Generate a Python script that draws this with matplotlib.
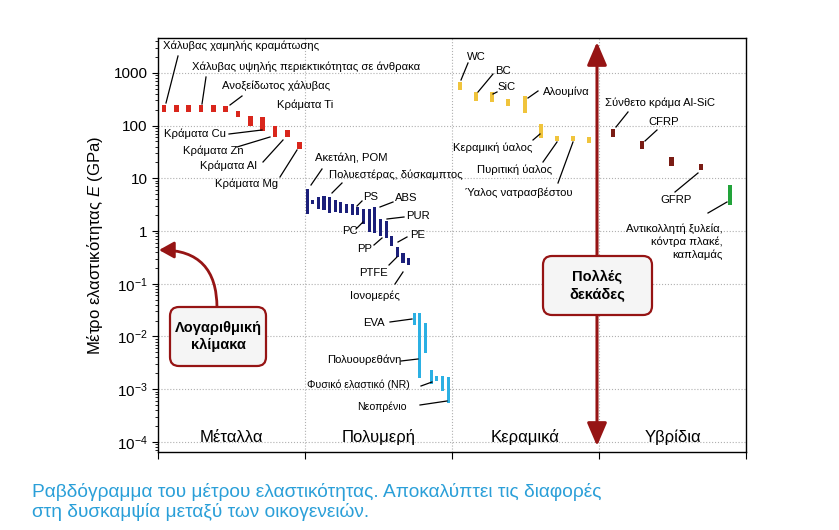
import numpy as np
import matplotlib
matplotlib.use("Agg")
import matplotlib.pyplot as plt
from matplotlib.patches import FancyBboxPatch, FancyArrowPatch
from matplotlib.transforms import IdentityTransform

plt.rcParams['font.family'] = ['Liberation Sans', 'DejaVu Sans']
plt.rcParams['mathtext.fontset'] = 'custom'
plt.rcParams['mathtext.rm'] = 'Liberation Sans'
plt.rcParams['mathtext.it'] = 'Liberation Sans:italic'

# %% data (GPa, low / high end of each bar)
families = ['Μέταλλα', 'Πολυμερή', 'Κεραμικά', 'Υβρίδια']

metal_lo = [180, 180, 180, 180, 180, 178, 145, 100, 80, 60, 60, 36]
metal_hi = [245, 245, 245, 245, 245, 240, 190, 155, 143, 98, 82, 48]

poly_lo = [2.06, 3.3, 2.65, 2.45, 2.2, 2.3, 2.2, 2.2, 1.97, 2.0,
           1.33, 0.95, 0.91, 0.82, 0.74, 0.53, 0.32, 0.25, 0.23]
poly_hi = [6.4, 3.9, 4.4, 4.7, 4.4, 3.8, 3.5, 3.3, 3.3, 2.8,
           2.65, 2.65, 2.84, 1.7, 1.58, 0.82, 0.49, 0.39, 0.31]

elast_lo = [0.0166, 0.00164, 0.0049, 0.00123, 0.0014, 0.00091, 0.00055]
elast_hi = [0.0272, 0.0272, 0.0183, 0.0023, 0.00178, 0.00178, 0.0017]

ceram_lo = [474, 297, 284, 235, 171, 57, 51, 51, 46]
ceram_hi = [682, 440, 440, 320, 365, 107, 64, 64, 60]

hybrid_lo = [60, 36, 17, 14.2, 3.06]
hybrid_hi = [85, 51, 25.5, 18.5, 7.4]

ytick_vals = [1e3, 1e2, 1e1, 1, 1e-1, 1e-2, 1e-3, 1e-4]
ytick_txt = ['1000', '100', '10', '1', r'$10^{-1}$', r'$10^{-2}$', r'$10^{-3}$', r'$10^{-4}$']

# labels: text, text position (ref px), leader line start/end (ref px) or None
labels = [
    ('Χάλυβας χαμηλής κραμάτωσης', (163, 46), (178, 56), (166, 103)),
    ('Χάλυβας υψηλής περιεκτικότητας σε άνθρακα', (192, 67), (206, 77), (202, 104)),
    ('Ανοξείδωτος χάλυβας', (222, 86), (242, 96), (230, 105)),
    ('Κράματα Ti', (277, 105), None, None),
    ('Κράματα Cu', (164, 134), (229, 134), (262, 130)),
    ('Κράματα Zn', (183, 151), (237, 147), (270, 137)),
    ('Κράματα Al', (200, 166), (263, 162), (283, 140)),
    ('Κράματα Mg', (215, 184), (280, 177), (297, 150)),
    ('Ακετάλη, POM', (315, 158), (322, 169), (311, 185)),
    ('Πολυεστέρας, δύσκαμπτος', (329, 175), (342, 183), (332, 193)),
    ('PS', (363, 197), (362, 201), (357, 206)),
    ('ABS', (395, 198), (393, 202), (380, 207)),
    ('PUR', (406, 216), (404, 217), (387, 219)),
    ('PC', (342, 231), (356, 229), (363, 222)),
    ('PE', (410, 235), (407, 237), (398, 242)),
    ('PP', (357, 249), (374, 245), (382, 238)),
    ('PTFE', (359, 273), (389, 265), (397, 257)),
    ('Ιονομερές', (350, 296), (395, 284), (403, 272)),
    ('EVA', (363, 323), (390, 322), (412, 319)),
    ('Πολυουρεθάνη', (327, 360), (401, 361), (418, 359)),
    ('Φυσικό ελαστικό (NR)', (307, 385), (421, 386), (432, 382)),
    ('Νεοπρένιο', (357, 407), (420, 405), (447, 401)),
    ('WC', (467, 57), (468, 63), (461, 80)),
    ('BC', (495, 71), (493, 74), (478, 92)),
    ('SiC', (497, 87), (497, 92), (493, 94)),
    ('Αλουμίνα', (543, 92), (538, 91), (528, 98)),
    ('Κεραμική ύαλος', (453, 148), (533, 140), (540, 134)),
    ('Πυριτική ύαλος', (477, 170), (543, 162), (557, 142)),
    ('Ύαλος νατρασβέστου', (465, 193), (558, 183), (573, 142)),
    ('Σύνθετο κράμα Al-SiC', (605, 103), (628, 112), (616, 127)),
    ('CFRP', (648, 122), (657, 130), (645, 141)),
    ('GFRP', (660, 200), (675, 192), (698, 173)),
]

caption = ('Ραβδόγραμμα του μέτρου ελαστικότητας. Αποκαλύπτει τις διαφορές\n'
           'στη δυσκαμψία μεταξύ των οικογενειών.')

# %% geometry helpers (reference image pixels -> data)
X0, XS = 158, 147.0
Y1, YS = 231, 52.7
TOP, BOT = 38, 452

def P(x, y):
    return ((x - X0) / XS, 10 ** ((Y1 - y) / YS))

W, H = 839, 530
fig = plt.figure(figsize=(W / 100, H / 100), dpi=100)
ax = fig.add_axes([158 / W, 1 - BOT / H, 588 / W, (BOT - TOP) / H])
ax.set_yscale('log')
ax.set_xlim(0, 4)
ax.set_ylim(10 ** ((Y1 - BOT) / YS), 10 ** ((Y1 - TOP) / YS))

def draw_bars(lo, hi, x0, step, width, color):
    lo = np.array(lo)
    hi = np.array(hi)
    xs = x0 + step * np.arange(len(lo))
    ax.bar(xs, hi - lo, bottom=lo, width=width, color=color, zorder=3)

draw_bars(metal_lo, metal_hi, 0.04, 0.084, 0.032, '#d9261c')
draw_bars(poly_lo, poly_hi, 1.014, 0.0384, 0.021, '#1b1f7a')
draw_bars(elast_lo, elast_hi, 1.014 + 19 * 0.0384, 0.0384, 0.021, '#2bb0e3')
draw_bars(ceram_lo, ceram_hi, 2.054, 0.11, 0.027, '#f0c43c')
draw_bars(hybrid_lo[:4], hybrid_hi[:4], 3.095, 0.199, 0.03, '#7a1c14')
ax.bar([3.095 + 4 * 0.199], [hybrid_hi[4] - hybrid_lo[4]], bottom=[hybrid_lo[4]],
       width=0.03, color='#22a33a', zorder=3)

# grid
for v in ytick_vals:
    ax.axhline(v, color='#b0b0b0', lw=0.8, ls=':', zorder=1)
for xv in [1, 2, 3]:
    ax.axvline(xv, color='#b0b0b0', lw=0.8, ls=':', zorder=1)

ax.set_yticks(ytick_vals)
ax.set_yticklabels(ytick_txt, fontsize=11)
ax.set_xticks([0, 1, 2, 3, 4])
ax.set_xticklabels([])
ax.tick_params(axis='x', length=5, direction='out')
ax.tick_params(axis='y', which='major', length=4, direction='out')
ax.tick_params(axis='y', which='minor', length=2, direction='out')
ax.set_ylabel(r'Μέτρο ελαστικότητας $\mathit{E}$ (GPa)', fontsize=12, labelpad=6)
for sp in ax.spines.values():
    sp.set_linewidth(1.0)

for i, name in enumerate(families):
    ax.text(i + 0.5, P(0, 437)[1], name, ha='center', va='center', fontsize=12)

# labels with leader lines
for txt, tp, a, b in labels:
    fs = 7.6 if txt in ('Νεοπρένιο', 'Φυσικό ελαστικό (NR)') else 8.1
    ax.text(*P(*tp), txt, ha='left', va='center', fontsize=fs, zorder=5)
    if a is not None:
        xa, ya = P(*a)
        xb, yb = P(*b)
        ax.plot([xa, xb], [ya, yb], color='black', lw=0.9, zorder=4)

ax.text(*P(723, 242), 'Αντικολλητή ξυλεία,\nκόντρα πλακέ,\nκαπλαμάς',
        ha='right', va='center', fontsize=8.1, linespacing=1.3, zorder=5)
xa, ya = P(708, 213)
xb, yb = P(727, 202)
ax.plot([xa, xb], [ya, yb], color='black', lw=0.9, zorder=4)

# callouts
red = '#961414'

def callout(x0, y0, x1, y1, text):
    box = FancyBboxPatch((x0, H - y1), x1 - x0, y1 - y0,
                         boxstyle='round,pad=0,rounding_size=9',
                         transform=IdentityTransform(), facecolor='#f5f5f5',
                         edgecolor=red, lw=1.6, zorder=8)
    fig.patches.append(box)
    fig.text((x0 + x1) / 2 / W, 1 - (y0 + y1) / 2 / H, text, ha='center', va='center',
             fontsize=10.5, fontweight='bold', linespacing=1.3, zorder=9)

# logarithmic-scale arrow
arr = FancyArrowPatch(P(217, 308), P(159, 250), connectionstyle='angle3,angleA=90,angleB=0',
                      arrowstyle='-|>,head_length=9,head_width=5', color=red, lw=2,
                      zorder=6, shrinkA=0, shrinkB=0)
ax.add_patch(arr)
callout(170, 307, 266, 366, 'Λογαριθμική\nκλίμακα')

# many-decades arrow
arr2 = FancyArrowPatch(P(597, 446), P(597, 42),
                       arrowstyle='<|-|>,head_length=14,head_width=6', color=red, lw=2.2,
                       zorder=6, shrinkA=0, shrinkB=0)
ax.add_patch(arr2)
callout(543, 256, 652, 315, 'Πολλές\nδεκάδες')

fig.text(32 / W, 1 - 502 / H, caption, ha='left', va='center', fontsize=13.8,
         color='#2a9fd8', linespacing=1.1)

fig.savefig('out.png', dpi=100)
